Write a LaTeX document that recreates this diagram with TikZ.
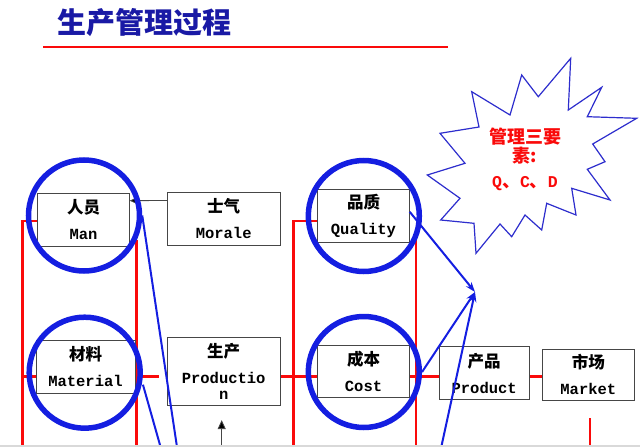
\documentclass[tikz,border=0pt]{standalone}
\usepackage{fontspec}
\usepackage{xcolor}
\usepackage{tikz}
\usetikzlibrary{arrows.meta,backgrounds}
\newfontfamily\cjk{Noto Sans CJK SC}
\newfontfamily\mono{Liberation Mono}
\definecolor{titleblue}{RGB}{25,25,165}
\definecolor{linkred}{RGB}{250,10,10}
\definecolor{ringblue}{RGB}{20,30,225}
\definecolor{starblue}{RGB}{45,45,205}
\definecolor{boxgray}{RGB}{70,70,70}
\newcommand{\duo}[2]{{\cjk\fontsize{16.5}{16}\selectfont #1}\\[10pt]#2}

\begin{document}
\begin{tikzpicture}[x=1pt,y=-1pt,
    box/.style={draw=boxgray, line width=0.8pt, fill=white, inner sep=0pt, align=center,
        font=\mono\bfseries\fontsize{15.5}{16}\selectfont},
    ring/.style={draw=ringblue, line width=5.5pt, circle, minimum size=111pt, inner sep=0pt},
    link/.style={draw=linkred, line width=2.6pt},
    cue/.style={draw=boxgray, line width=0.8pt, -{Triangle[length=9pt,width=8pt,fill=black]}},
    pull/.style={draw=ringblue, line width=2pt},
    pullto/.style={pull, -{Stealth[length=10pt,width=7pt]}},
    burst/.style={draw=starblue, line width=1.2pt, fill=white}]
    \useasboundingbox (0,0) rectangle (640,447);

    % Title and rule
    \node[font=\cjk\bfseries\fontsize{29}{30}\selectfont, text=titleblue] (title) at (144,23) {生产管理过程};
    \draw[linkred, line width=1.8pt] (43.3,47.3) -- (447.7,47.3);

    % Free ends at the foot of the page
    \coordinate (lane) at (0,376.7);
    \coordinate (lfoot) at (22.7,445);
    \coordinate (mtop) at (136.7,240);
    \coordinate (mfoot) at (136.7,445);
    \coordinate (cfoot) at (293.3,445);
    \coordinate (qtop) at (416,240);
    \coordinate (qfoot) at (416,445);
    \coordinate (kfoot) at (590,445);
    \coordinate (ktop) at (590,418.3);
    \coordinate (pfoot) at (221.7,445);
    \coordinate (manfoot) at (176.7,445);
    \coordinate (matfoot) at (160,445);
    \coordinate (prodfoot) at (441.7,445);
    \coordinate (qcd) at (475,292);

    % Boxes
    \node[box, minimum width=91.6pt, minimum height=52.7pt] (Man) at (83.5,219.7) {\duo{人员}{Man}};
    \node[box, minimum width=112.7pt, minimum height=53pt] (Morale) at (223.7,218.5) {\duo{士气}{Morale}};
    \node[box, minimum width=99pt, minimum height=53.3pt] (Material) at (85.5,366.7) {\duo{材料}{Material}};
    \node[box, minimum width=112.7pt, minimum height=68.4pt] (Production) at (223.7,371.5) {\duo{生产}{Productio\\n}};
    \node[box, minimum width=91.6pt, minimum height=53pt] (Quality) at (363.5,215.8) {\duo{品质}{Quality}};
    \node[box, minimum width=91.6pt, minimum height=52.3pt] (Cost) at (363.5,371.2) {\duo{成本}{Cost}};
    \node[box, minimum width=90.3pt, minimum height=52.6pt] (Product) at (484.2,373) {\duo{产品}{Product}};
    \node[box, minimum width=91.3pt, minimum height=51.7pt] (Market) at (588.3,374.8) {\duo{市场}{Market}};

    % Red frame, behind the boxes
    \begin{pgfonlayer}{background}
    \draw[link] (lfoot) |- ([yshift=-1.3pt]Man.west);
    \draw[link] (lfoot |- lane) -- (Material.west |- lane);
    \draw[link] (mtop) -- (mfoot);
    \draw[link] (cfoot) |- ([yshift=-5pt]Quality.west);
    \draw[link] (qtop) -- (qfoot);
    \draw[link] (Material.east |- lane) -- ([xshift=-8pt]Production.west |- lane);
    \draw[link] (Production.east |- lane) -- (Cost.west |- lane);
    \draw[link] (Cost.east |- lane) -- (Product.west |- lane);
    \draw[link] (Product.east |- lane) -- (Market.west |- lane);
    \draw[link] (ktop) -- (kfoot);
    \end{pgfonlayer}

    % Black arrows
    \draw[cue] ([yshift=18pt]Morale.west) -- ([yshift=19pt]Man.east);
    \draw[cue] (pfoot) -- ([xshift=-2pt,yshift=-14pt]Production.south);

    % Blue rings
    \node[ring] (manring) at (84,215.5) {};
    \node[ring] (matring) at (84.7,372.7) {};
    \node[ring] (qualring) at (363.8,216) {};
    \node[ring] (costring) at (363.8,372) {};

    % Blue lines
    \draw[pull] (manring.east) -- (manfoot);
    \draw[pull] ([yshift=-12pt]matring.east) -- (matfoot);
    \draw[pullto] ([yshift=4pt]Quality.east) -- (qcd);
    \draw[pullto] (costring.east) -- (qcd);
    \draw[pullto] (prodfoot) -- (qcd);

    % Starburst
    \draw[burst] (471.7,91.7) -- (510,115) -- (521.7,75) -- (538.3,96.7) -- (570.7,58.3)
        -- (568.3,110) -- (601.7,87.3) -- (587.3,116.7) -- (636.7,118.3) -- (592.7,144)
        -- (605,161.7) -- (587.3,169.3) -- (610,200) -- (571.7,188.3) -- (576,215)
        -- (546.7,203.3) -- (541.7,230) -- (525,215) -- (511.7,236.7) -- (500,224)
        -- (476,253.3) -- (474,223.3) -- (440.7,220) -- (460,198.3) -- (427.3,175)
        -- (465,163.3) -- (440,133.3) -- (479,127) -- cycle;
    \node[align=center, text=linkred, font=\cjk\bfseries\fontsize{18}{16.5}\selectfont] (qcdnote) at (525,159.4)
        {管理三要\\素:\\[8.5pt]{\mono\bfseries\fontsize{16.5}{16.5}\selectfont Q}、{\mono\bfseries\fontsize{16.5}{16.5}\selectfont C}、{\mono\bfseries\fontsize{16.5}{16.5}\selectfont D}};

    % Page edge
    \fill[black!15] (0,445) rectangle (640,447);
\end{tikzpicture}
\end{document}
